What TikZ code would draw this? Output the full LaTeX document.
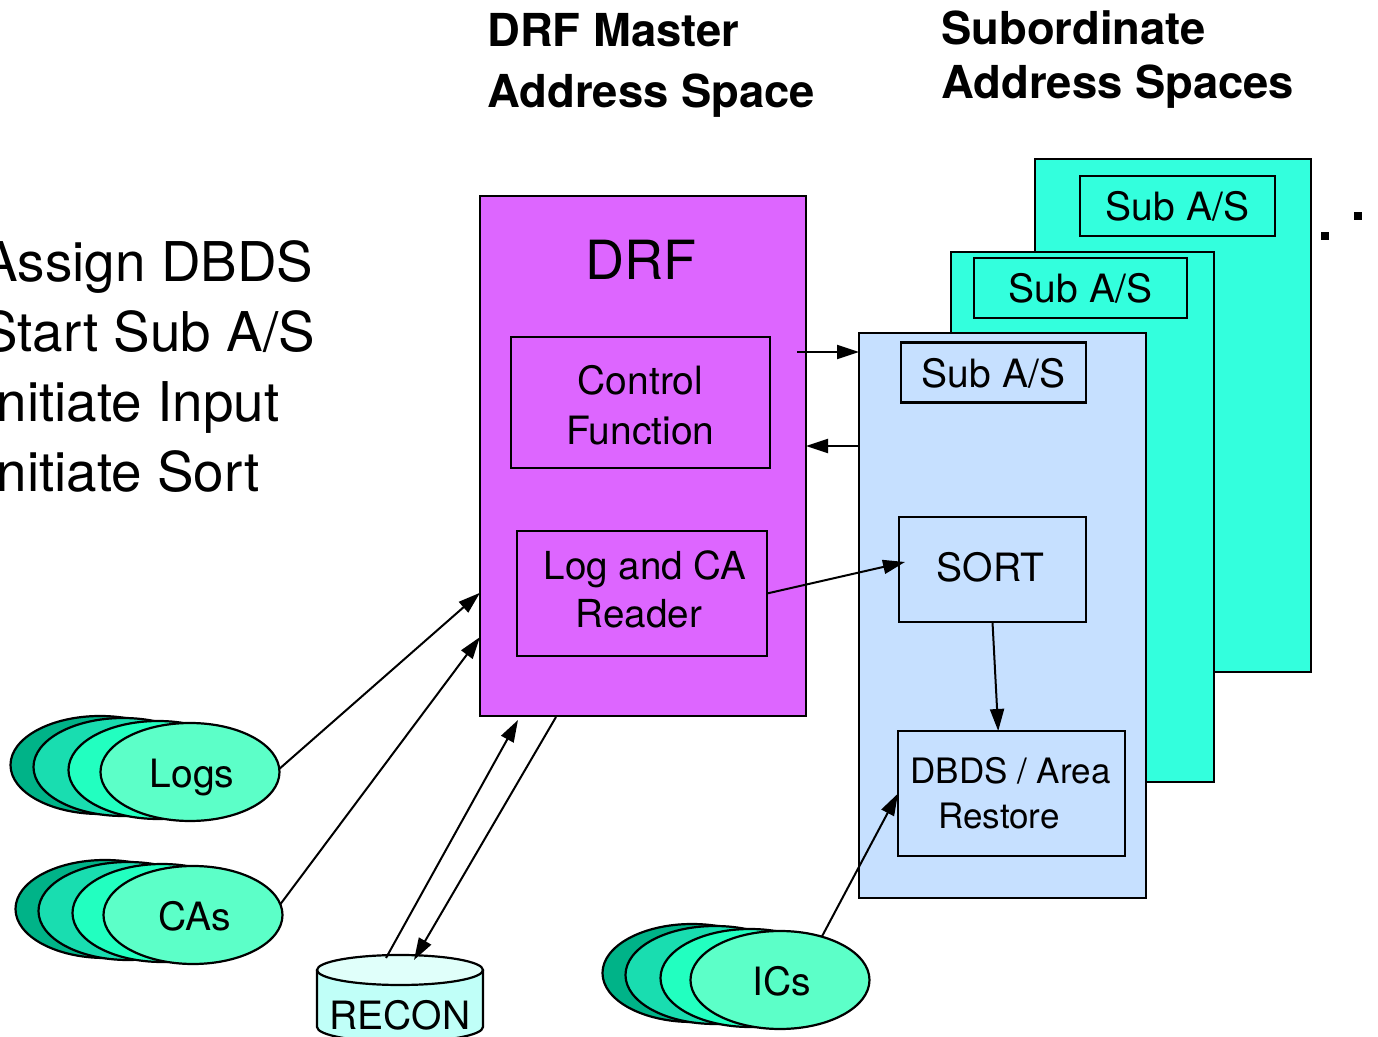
\documentclass[tikz,border=0pt]{standalone}
\usepackage{fontspec}
\setmainfont{TeX Gyre Heros}
\usetikzlibrary{shapes.geometric,arrows.meta}
\definecolor{drfpurple}{HTML}{DD66FF}
\definecolor{subteal}{HTML}{33FFDD}
\definecolor{subblue}{HTML}{C6E0FF}
\definecolor{stackA}{HTML}{00B388}
\definecolor{stackB}{HTML}{19DDB0}
\definecolor{stackC}{HTML}{22FFC0}
\definecolor{stackD}{HTML}{5CFFC8}
\definecolor{recontop}{HTML}{E0FFFA}
\definecolor{reconbody}{HTML}{C0FFF8}
\tikzset{
    box/.style={rectangle,draw=black,line width=1.1pt,inner sep=0pt,outer sep=0pt,align=center,font=\fontsize{19.5}{25}\selectfont},
    sublabel/.style={box,text height=15pt,minimum height=30pt},
    boxtext/.style={inner sep=0pt,align=center,font=\fontsize{19.5}{25}\selectfont},
    disk/.style={ellipse,draw=black,line width=1.1pt,inner sep=0pt,outer sep=0pt,minimum width=89.5pt,minimum height=49pt,text height=15.5pt,text depth=0pt,font=\fontsize{19.5}{25}\selectfont},
    heading/.style={anchor=base west,inner sep=0pt,font=\fontsize{22.7}{27}\selectfont\bfseries},
    duty/.style={anchor=base west,inner sep=0pt,font=\fontsize{27.4}{30}\selectfont},
    flow/.style={draw=black,line width=1pt,-{Triangle[length=11pt,width=7pt]}}
}
\begin{document}
\begin{tikzpicture}[x=0.5pt,y=-0.5pt]
    \useasboundingbox (0,0) rectangle (1378,1037);
    \node[heading] (title1a) at (487,47) {DRF Master};
    \node[heading] (title1b) at (487,108) {Address Space};
    \node[heading] (title2a) at (941,45) {Subordinate};
    \node[heading] (title2b) at (941,99) {Address Spaces};
    \node[duty] (duty1) at (-19,282) {Assign DBDS};
    \node[duty] (duty2) at (-19,352) {Start Sub A/S};
    \node[duty] (duty3) at (-19,422) {Initiate Input};
    \node[duty] (duty4) at (-19,492) {Initiate Sort};
    % subordinate stack
    \begin{scope}[every node/.append style={box}]
        \node[fill=subteal,minimum width=138pt,minimum height=256.5pt] (sub3) at (1173,415.5) {};
        \node[sublabel,fill=subteal,minimum width=97.5pt] (sub3a) at (1177.5,206) {Sub A/S};
        \node[fill=subteal,minimum width=131.5pt,minimum height=265pt] (sub2) at (1082.5,517) {};
        \node[sublabel,fill=subteal,minimum width=106.5pt] (sub2a) at (1080.5,288) {Sub A/S};
        \node[fill=subblue,minimum width=143.5pt,minimum height=282.5pt] (sub1) at (1002.5,615.5) {};
        \node[sublabel,fill=subblue,minimum width=92.5pt] (sub1a) at (993.5,372.5) {Sub A/S};
        \node[fill=subblue,minimum width=93.5pt,minimum height=52.5pt] (sort) at (992.5,569.5) {};
        \node[fill=subblue,minimum width=113.5pt,minimum height=62.5pt] (dbds) at (1011.5,793.5) {};
    % master
        \node[fill=drfpurple,minimum width=163pt,minimum height=260pt] (drf) at (643,456) {};
        \node[fill=drfpurple,minimum width=129.5pt,minimum height=65.5pt] (ctrl) at (640.5,402.5) {};
        \node[fill=drfpurple,minimum width=125pt,minimum height=62.5pt] (reader) at (642,593.5) {};
    \end{scope}
    \node[boxtext,font=\fontsize{27}{30}\selectfont] (drflabel) at (641,260) {DRF};
    \node[boxtext] (ctrllabel) at (640.5,405.5) {Control\\Function};
    \node[boxtext,font=\fontsize{19.3}{24}\selectfont] (readerlabel) at (642,589.5) {\hspace*{3pt}Log and CA\\Reader\hspace*{3pt}};
    \node[boxtext] (sortlabel) at (990.5,567.5) {SORT};
    \node[boxtext,font=\fontsize{17.5}{22.5}\selectfont] (dbdslabel) at (1010.5,793.5) {DBDS / Area\\Restore\hspace*{11.5pt}};
    % dots
    \node[fill=black,minimum size=4pt,inner sep=0pt] (dot1) at (1324.5,236.5) {};
    \node[fill=black,minimum size=4pt,inner sep=0pt] (dot2) at (1358,216.5) {};
    % data sets
    \node[disk,fill=stackA] (logsA) at (100,765) {};
    \node[disk,fill=stackB] (logsB) at (123,767) {};
    \node[disk,fill=stackC] (logsC) at (158,770) {};
    \node[disk,fill=stackD] (logs) at (190,772) {\hspace*{2pt}Logs};
    \node[disk,fill=stackA] (casA) at (105,909) {};
    \node[disk,fill=stackB] (casB) at (128,911) {};
    \node[disk,fill=stackC] (casC) at (162,913) {};
    \node[disk,fill=stackD] (cas) at (193,915) {\hspace*{2pt}CAs};
    \node[disk,fill=stackA] (icsA) at (692,973) {};
    \node[disk,fill=stackB] (icsB) at (715,975) {};
    \node[disk,fill=stackC] (icsC) at (750,978) {};
    \node[disk,fill=stackD] (ics) at (780,980) {\hspace*{2pt}ICs};
    % recon drum
    \draw[line width=1.1pt,fill=reconbody] (317,970) -- (317,1027) arc[start angle=180,end angle=0,x radius=83,y radius=15] -- (483,970);
    \node[ellipse,draw=black,line width=1.1pt,inner sep=0pt,outer sep=0pt,fill=recontop,minimum width=83pt,minimum height=15pt] (recon) at (400,970) {};
    \node[boxtext] (reconlabel) at (400,1015) {RECON};
    % connectors
    \coordinate (ctrlout) at (797,352);
    \coordinate (subin) at (859,352);
    \coordinate (subout) at (859,446);
    \coordinate (drfin) at (806,446);
    \coordinate (drfup) at (518,720);
    \coordinate (drfdown) at (556,717);
    \coordinate (reconout) at (386,958);
    \coordinate (reconin) at (414,960);
    \coordinate (sortin) at (905,562);
    \draw[flow] (ctrlout) -- (subin);
    \draw[flow] (subout) -- (drfin);
    \draw[flow] (logs.2) -- (drf.220);
    \draw[flow] (cas.7) -- (drf.228.5);
    \draw[flow] (reconout) -- (drfup);
    \draw[flow] (drfdown) -- (reconin);
    \draw[flow] (reader.east) -- (sortin);
    \draw[flow] (sort.south) -- (dbds.102.2);
    \draw[flow] (ics.46) -- (dbds.west);
\end{tikzpicture}
\end{document}
